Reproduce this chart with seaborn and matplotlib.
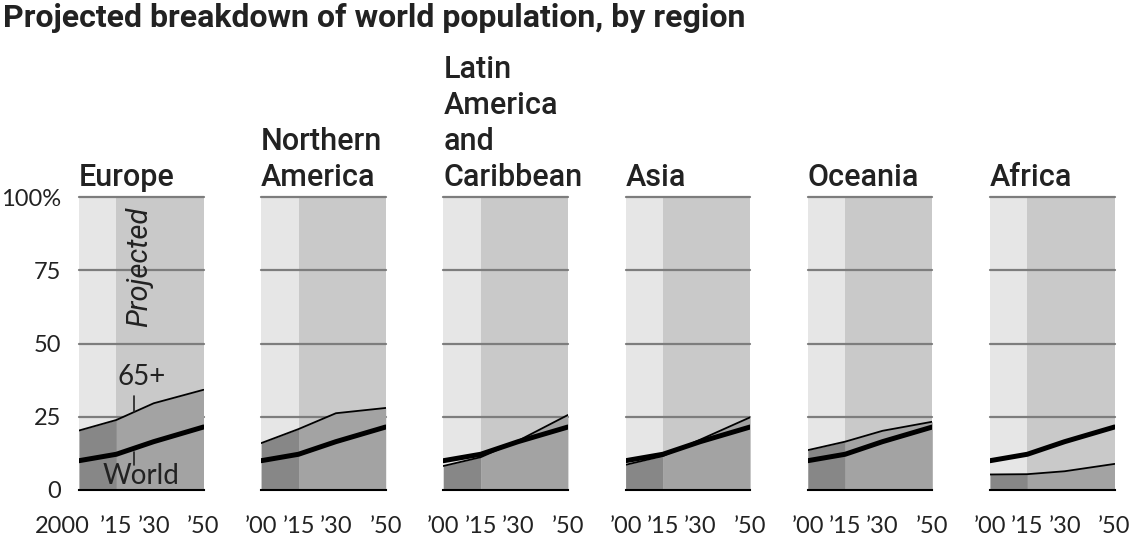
import numpy as np
import pandas as pd
import seaborn as sns
import matplotlib.pyplot as plt
from matplotlib.transforms import ScaledTranslation

# Share of population aged 65+ (as labelled), percent
years = [2000, 2015, 2030, 2050]
regions = ["Europe", "Northern\nAmerica", "Latin\nAmerica\nand\nCaribbean",
           "Asia", "Oceania", "Africa"]
europe = [20.3, 23.9, 29.6, 34.2]
northern_america = [16.0, 20.8, 26.2, 28.0]
latin_america = [8.2, 11.2, 16.8, 25.6]
asia = [8.6, 11.6, 17.2, 24.8]
oceania = [13.6, 16.5, 20.2, 23.3]
africa = [5.3, 5.4, 6.4, 8.9]
world = [10.0, 12.2, 16.5, 21.5]
region_values = [europe, northern_america, latin_america, asia, oceania, africa]

x_labels_first = ["2000", "\u201915", "\u201930", "\u201950"]
x_labels = ["\u201900", "\u201915", "\u201930", "\u201950"]
y_ticks = [0, 25, 50, 75, 100]
y_labels = ["0", "25", "50", "75", "100%"]

sns.set_style("white")
plt.rcParams["font.family"] = ["Roboto", "DejaVu Sans"]

W, H = 1133, 542
fig = plt.figure(figsize=(W / 100, H / 100), dpi=100)

num_font = dict(family=["Lato", "DejaVu Sans"], weight="normal")
ink = "#222222"

for i, (name, vals) in enumerate(zip(regions, region_values)):
    left = 79 + i * 182.2
    ax = fig.add_axes([left / W, 52 / H, 124.5 / W, 293 / H])
    ax.set_xlim(2000, 2050)
    ax.set_ylim(0, 100)

    # background: history vs projection
    ax.axvspan(2000, 2015, color="#e6e6e6", lw=0, zorder=0)
    ax.axvspan(2015, 2050, color="#c9c9c9", lw=0, zorder=0)
    for g in y_ticks[1:]:
        ax.axhline(g, color="#7d7d7d", lw=1.6, zorder=1, clip_on=False)

    # area under the region's line
    ax.fill_between(years[:2], vals[:2], color="#878787", lw=0, zorder=2)
    ax.fill_between(years[1:], vals[1:], color="#a3a3a3", lw=0, zorder=2)

    df = pd.DataFrame({"year": years, "region": vals, "world": world})
    sns.lineplot(data=df, x="year", y="region", color="black", lw=1.3,
                 ax=ax, zorder=3, legend=False)
    sns.lineplot(data=df, x="year", y="world", color="black", lw=3.6,
                 ax=ax, zorder=4, legend=False)
    ax.set_xlabel("")
    ax.set_ylabel("")

    for s in ["top", "left", "right"]:
        ax.spines[s].set_visible(False)
    ax.spines["bottom"].set_color("black")
    ax.spines["bottom"].set_linewidth(1.5)
    ax.spines["bottom"].set_zorder(5)

    ax.set_xticks(years)
    ax.set_xticklabels(x_labels_first if i == 0 else x_labels, **num_font)
    ax.tick_params(axis="x", direction="out", length=9, width=1.5,
                   color="black", pad=10, labelsize=17, labelcolor=ink)
    if i == 0:
        lab = ax.get_xticklabels()[0]
        lab.set_transform(lab.get_transform() +
                          ScaledTranslation(-0.17, 0, fig.dpi_scale_trans))

    if i == 0:
        ax.set_yticks(y_ticks)
        ax.set_yticklabels(y_labels, **num_font)
        ax.tick_params(axis="y", length=0, pad=13, labelsize=17,
                       labelcolor=ink)
    else:
        ax.set_yticks([])

    ax.text(0, 1 + 11 / 293, name, transform=ax.transAxes, ha="left",
            va="baseline", fontsize=22, weight="medium", color=ink,
            linespacing=1.3)

    if i == 0:
        ax.text(2024.2, 76, "Projected", rotation=90, ha="center",
                va="center", fontsize=21, style="italic", weight="normal",
                color=ink, zorder=6)
        ax.text(2025, 38.5, "65+", ha="center", va="center", fontsize=20,
                color=ink, zorder=6, **num_font)
        ax.plot([2022.2, 2022.2], [26.6, 32.2], color=ink, lw=1.2, zorder=6)
        ax.text(2025, 4.8, "World", ha="center", va="center", fontsize=20,
                color=ink, zorder=6, **num_font)
        ax.plot([2022.2, 2022.2], [8.5, 13.0], color=ink, lw=1.2, zorder=6)

fig.text(3 / W, 1 - 3 / H, "Projected breakdown of world population, by region",
         ha="left", va="top", fontsize=23, weight="bold", color=ink)

fig.savefig("out.png", dpi=100, facecolor="white")
